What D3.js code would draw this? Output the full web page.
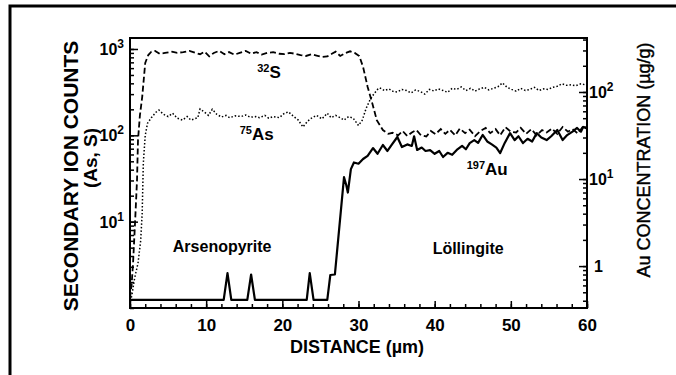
<!DOCTYPE html>
<html>
<head>
<meta charset="utf-8">
<script src="https://cdn.jsdelivr.net/npm/d3@7"></script>
<style>
  body { margin: 0; background: #fff; }
  svg { display: block; }
  text { font-family: "Liberation Sans", Arial, Helvetica, sans-serif; fill: #000; }
</style>
</head>
<body>
<svg id="chart" width="676" height="375"></svg>
<script>
// tick values
const distanceTicks = [0, 10, 20, 30, 40, 50, 60];
const countTicks = [10, 100, 1000];
const auTicks = [1, 10, 100];

// 32S secondary ion counts, [distance µm, counts]
const sulfur = [[0,1.3],[0.2,1.8],[0.4,3.3],[0.66,9.6],[0.92,30],[1.05,88],[1.3,170],[1.6,277],[2.0,690],[2.4,850],[2.8,930],[3.3,950],[3.9,880],[4.6,900],[5.5,930],[6.2,900],[7.0,920],[7.8,950],[8.6,900],[9.2,870],[9.8,930],[10.4,820],[11.0,900],[11.7,950],[12.4,870],[13.0,920],[13.7,860],[14.4,900],[15.2,950],[15.9,880],[16.6,920],[17.3,860],[18.0,900],[18.8,920],[19.6,880],[20.3,870],[21.0,900],[21.7,880],[22.4,850],[23.1,830],[23.8,870],[24.5,840],[25.2,810],[25.9,820],[26.5,880],[27.0,930],[27.6,830],[28.3,900],[28.9,940],[29.5,900],[30.1,830],[30.6,620],[31.2,363],[31.8,237],[32.4,150],[33.2,115],[33.9,104],[34.5,107],[35.2,100],[35.8,112],[36.4,98],[37.0,108],[37.6,115],[38.2,100],[38.9,97],[39.5,112],[40.1,103],[40.8,118],[41.4,104],[42.0,116],[42.7,100],[43.3,120],[44.0,106],[44.6,116],[45.3,98],[46.0,112],[46.7,122],[47.3,106],[48.0,118],[48.6,100],[49.3,124],[50.0,110],[50.7,108],[51.3,122],[52.0,104],[52.7,118],[53.4,100],[54.1,115],[54.7,108],[55.4,120],[56.1,104],[56.8,125],[57.5,110],[58.1,118],[58.8,105],[59.4,124],[60,120]];

// 75As secondary ion counts, [distance µm, counts]
const arsenic = [[0,1.1],[0.3,1.5],[0.6,2.2],[1.05,3.3],[1.4,6],[1.6,12.6],[1.75,48],[2.0,100],[2.3,138],[2.8,160],[3.4,185],[3.8,196],[4.4,175],[5.0,165],[5.6,180],[6.2,158],[6.9,150],[7.5,165],[8.0,150],[8.9,160],[9.2,202],[9.8,185],[10.3,170],[10.8,200],[11.4,175],[12.0,163],[12.6,170],[13.1,160],[13.8,168],[14.6,165],[15.2,172],[15.8,162],[16.5,165],[17.0,160],[17.7,170],[18.2,158],[18.8,165],[19.6,160],[20.2,178],[20.8,187],[21.5,165],[22.1,150],[22.7,125],[23.3,145],[23.9,160],[24.5,170],[25.2,155],[25.9,180],[26.4,160],[27.0,170],[27.6,160],[28.1,150],[28.7,165],[29.3,158],[30.0,130],[30.5,150],[31.0,205],[31.5,256],[32.0,300],[32.5,340],[32.8,355],[33.4,330],[34.0,345],[34.6,320],[35.1,318],[35.7,340],[36.3,330],[36.9,310],[37.5,335],[38.1,322],[38.7,300],[39.3,340],[39.9,326],[40.5,345],[41.1,330],[41.7,315],[42.3,350],[42.9,340],[43.5,363],[44.1,330],[44.7,350],[45.3,325],[45.9,345],[46.5,360],[47.1,335],[47.7,350],[48.3,365],[48.9,405],[49.5,360],[50.1,340],[50.7,325],[51.3,350],[51.9,330],[52.5,340],[53.1,360],[53.7,330],[54.3,345],[54.9,340],[55.5,360],[56.1,370],[56.7,395],[57.3,380],[57.9,385],[58.5,375],[59.2,395],[60,380]];

// 197Au concentration, [distance µm, µg/g]
const gold = [[0,0.41],[12.3,0.41],[12.8,0.83],[13.3,0.41],[15.4,0.41],[15.9,0.8],[16.4,0.41],[23.2,0.41],[23.6,0.83],[24.1,0.41],[25.9,0.41],[26.3,0.79],[26.9,0.8],[28.1,10.5],[28.4,8.5],[28.6,7],[29.0,13],[29.4,15.5],[30.0,15],[30.6,17],[31.2,18.5],[31.9,22.7],[32.5,19.5],[33.2,24.6],[33.8,21],[34.4,25],[35.1,30.4],[35.7,23.3],[36.4,25],[37.0,24],[37.3,31],[37.7,21.6],[38.3,23],[38.8,21],[39.4,21.5],[40.0,19.5],[40.6,21],[41.1,17.9],[41.7,20],[42.3,19],[42.9,21.6],[43.6,24],[44.1,22],[44.6,25.9],[45.2,28],[45.7,26],[46.3,32.1],[46.9,27],[47.5,25],[48.1,23],[48.6,19.9],[49.2,26],[49.9,33.7],[50.5,28],[51.0,31],[51.6,25.9],[52.2,29],[52.8,27],[53.4,33.7],[54.0,30],[54.7,28.0],[55.3,31],[56.1,36.6],[56.8,28.0],[57.4,32],[58.1,35],[58.7,38.6],[59.2,35],[59.5,39.7],[60,38]];

// in-plot labels: [superscript, text, distance, counts]
const isotopeLabels = [['32', 'S', 16.7, 462], ['75', 'As', 14.4, 88], ['197', 'Au', 44.2, 34.8]];
const phaseLabels = [['Arsenopyrite', 12.1, 4.45], ['Löllingite', 44.4, 4.2]];

const svg = d3.select('#chart');

/**
 * SIZE DEFINITIONS
 */
const plot = { left: 130, right: 587, top: 38, bottom: 308 };

/**
 * SCALES
 */
const x = d3.scaleLinear().domain([0, 60]).range([plot.left, plot.right]);
const yCounts = d3.scaleLog().domain([1, 1340]).range([plot.bottom, plot.top]);
const yAu = d3.scaleLog().domain([0.33, 417]).range([plot.bottom, plot.top]);

// outer figure border (left + top edges only)
svg.append('path')
  .attr('d', 'M10,375V6H676')
  .attr('fill', 'none')
  .attr('stroke', '#000')
  .attr('stroke-width', 3);

svg.append('clipPath').attr('id', 'clip')
  .append('rect')
  .attr('x', plot.left).attr('y', plot.top)
  .attr('width', plot.right - plot.left).attr('height', plot.bottom - plot.top);

/**
 * CURVES
 */
const lineOn = (ys) => d3.line().x((d) => x(d[0])).y((d) => ys(d[1]));
const curves = svg.append('g').attr('clip-path', 'url(#clip)').attr('fill', 'none').attr('stroke', '#000');

curves.append('path')
  .attr('d', lineOn(yCounts)(arsenic))
  .attr('stroke-width', 1.5)
  .attr('stroke-dasharray', '1.5,2');

curves.append('path')
  .attr('d', lineOn(yCounts)(sulfur))
  .attr('stroke-width', 1.8)
  .attr('stroke-dasharray', '6,3');

curves.append('path')
  .attr('d', lineOn(yAu)(gold))
  .attr('stroke-width', 2.2)
  .attr('stroke-linejoin', 'round');

/**
 * AXES (ticks point inward)
 */
function logMinor(scale) {
  const [lo, hi] = scale.domain();
  const out = [];
  for (let d = Math.pow(10, Math.floor(Math.log10(lo))); d <= hi; d *= 10) {
    for (let k = 1; k <= 9; k++) {
      const v = d * k;
      if (v >= lo && v <= hi) out.push(v);
    }
  }
  return out;
}

function tickAxis(axis, tx, ty) {
  const g = svg.append('g').attr('transform', `translate(${tx},${ty})`).call(axis);
  g.select('.domain').remove();
  g.selectAll('.tick line').attr('stroke', '#000').attr('stroke-width', 1.5);
  g.selectAll('text').remove();
}

const blank = () => '';
tickAxis(d3.axisRight(yCounts).tickValues(logMinor(yCounts)).tickSize(4).tickFormat(blank), plot.left, 0);
tickAxis(d3.axisRight(yCounts).tickValues(countTicks).tickSize(8).tickFormat(blank), plot.left, 0);
tickAxis(d3.axisLeft(yAu).tickValues(logMinor(yAu)).tickSize(4).tickFormat(blank), plot.right, 0);
tickAxis(d3.axisLeft(yAu).tickValues(auTicks).tickSize(8).tickFormat(blank), plot.right, 0);
tickAxis(d3.axisTop(x).tickValues(d3.range(0, 61, 2)).tickSize(4).tickFormat(blank), 0, plot.bottom);
tickAxis(d3.axisTop(x).tickValues(distanceTicks).tickSize(7).tickFormat(blank), 0, plot.bottom);

// plot frame
svg.append('rect')
  .attr('x', plot.left).attr('y', plot.top)
  .attr('width', plot.right - plot.left).attr('height', plot.bottom - plot.top)
  .attr('fill', 'none')
  .attr('stroke', '#000')
  .attr('stroke-width', 2);

// tick labels
const gX = svg.append('g')
  .attr('transform', `translate(0,${plot.bottom})`)
  .call(d3.axisBottom(x).tickValues(distanceTicks).tickSize(0).tickPadding(11));
gX.select('.domain').remove();
gX.selectAll('text').attr('font-size', 17).attr('font-weight', 'bold').attr('font-family', null);

function powerLabel(sel, v) {
  const e = Math.round(Math.log10(v));
  if (e === 0) { sel.text('1'); return; }
  sel.append('tspan').text('10');
  sel.append('tspan').attr('font-size', 12).attr('dy', -7).text(e);
}

svg.append('g').selectAll('text')
  .data(countTicks)
  .join('text')
  .attr('x', plot.left - 6)
  .attr('y', (d) => yCounts(d) + 6)
  .attr('text-anchor', 'end')
  .attr('font-size', 16)
  .attr('font-weight', 'bold')
  .each(function (d) { powerLabel(d3.select(this), d); });

svg.append('g').selectAll('text')
  .data(auTicks)
  .join('text')
  .attr('x', (d) => (d === 1 ? plot.right + 7 : plot.right + 2))
  .attr('y', (d) => yAu(d) + 6)
  .attr('font-size', 16)
  .attr('font-weight', 'bold')
  .each(function (d) { powerLabel(d3.select(this), d); });

/**
 * AXIS TITLES
 */
svg.append('text')
  .attr('x', 357).attr('y', 353)
  .attr('text-anchor', 'middle')
  .attr('font-size', 18).attr('font-weight', 'bold')
  .text('DISTANCE (µm)');

svg.append('text')
  .attr('transform', 'translate(78,176) rotate(-90)')
  .attr('text-anchor', 'middle')
  .attr('font-size', 21).attr('font-weight', 'bold')
  .text('SECONDARY ION COUNTS');

svg.append('text')
  .attr('transform', 'translate(97,158) rotate(-90)')
  .attr('text-anchor', 'middle')
  .attr('font-size', 19).attr('font-weight', 'bold')
  .text('(As, S)');

svg.append('text')
  .attr('transform', 'translate(650,160) rotate(-90)')
  .attr('text-anchor', 'middle')
  .attr('font-size', 18)
  .attr('stroke', '#000').attr('stroke-width', 0.4)
  .text('Au CONCENTRATION (µg/g)');

/**
 * ANNOTATIONS
 */
svg.append('g').selectAll('text')
  .data(isotopeLabels)
  .join('text')
  .attr('x', (d) => x(d[2]))
  .attr('y', (d) => yCounts(d[3]))
  .attr('font-weight', 'bold')
  .each(function (d) {
    const t = d3.select(this);
    t.append('tspan').attr('font-size', 11).attr('dy', -6).text(d[0]);
    t.append('tspan').attr('font-size', 17).attr('dy', 6).text(d[1]);
  });

svg.append('g').selectAll('text')
  .data(phaseLabels)
  .join('text')
  .attr('x', (d) => x(d[1]))
  .attr('y', (d) => yCounts(d[2]))
  .attr('text-anchor', 'middle')
  .attr('font-size', 16)
  .attr('font-weight', 'bold')
  .text((d) => d[0]);
</script>
</body>
</html>
